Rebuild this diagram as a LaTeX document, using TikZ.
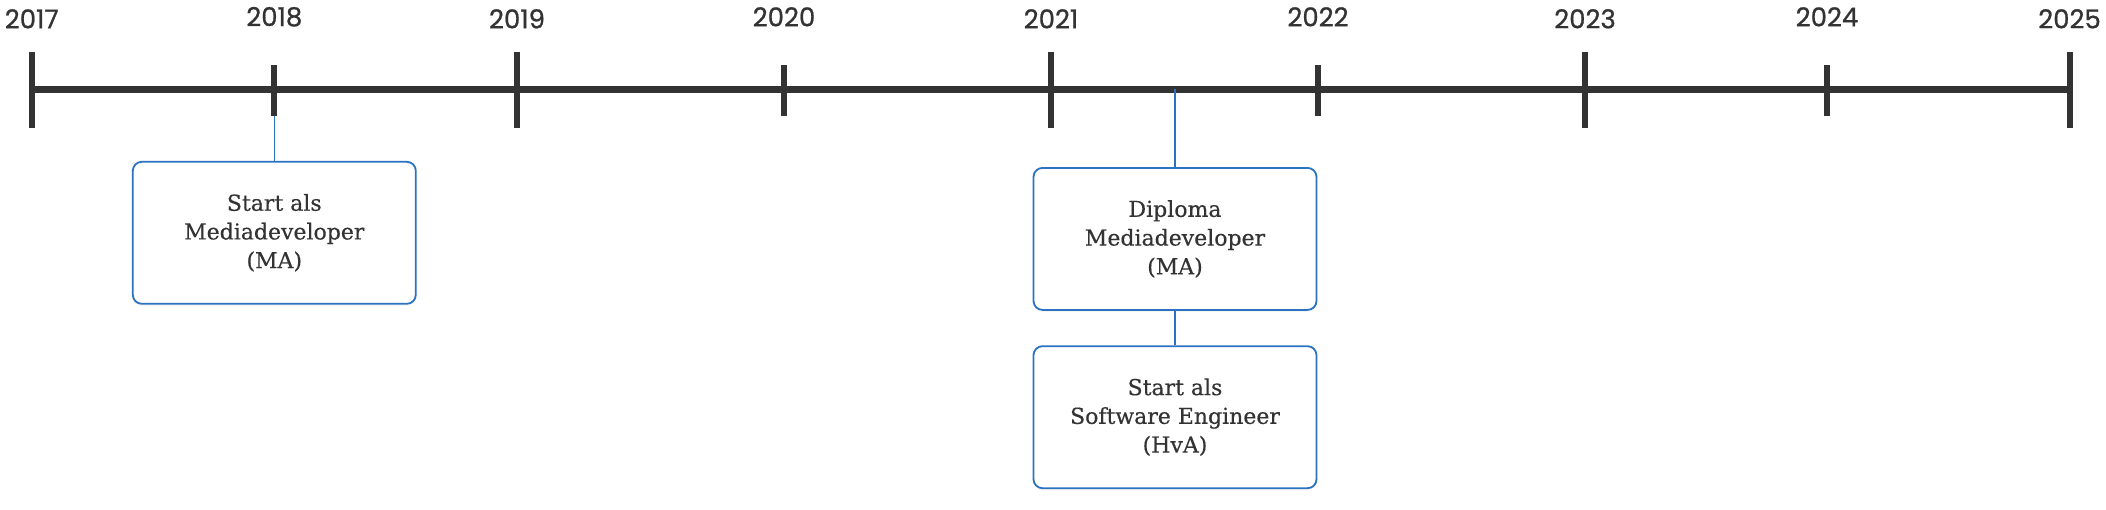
\documentclass[tikz,border=0pt]{standalone}
\usepackage{fontspec}
\usetikzlibrary{shadows}
\newfontfamily\yearfont{Poppins}[FakeBold=0.8]
\newfontfamily\boxfont{DejaVu Serif}[FakeBold=0.4]
\definecolor{axis}{HTML}{333333}
\definecolor{txt}{HTML}{333333}
\definecolor{boxblue}{HTML}{2B73C2}
\begin{document}
\begin{tikzpicture}[x=1pt,y=-1pt,
  axisline/.style={line width=6.6pt, draw=axis},
  tickline/.style={line width=6pt, draw=axis},
  yearlbl/.style={font=\yearfont\fontsize{26}{30}\selectfont, text=axis, inner sep=0pt},
  event/.style={draw=boxblue, line width=1.8pt, rounded corners=9pt, fill=white,
    minimum width=283pt, minimum height=142pt, align=center,
    font=\boxfont\fontsize{22}{28.7}\selectfont, text=txt, inner sep=0pt,
    drop shadow={shadow xshift=0pt, shadow yshift=-2pt, opacity=0.08}},
  link/.style={draw=boxblue, line width=1.3pt}]
\useasboundingbox[fill=white] (0,0) rectangle (2106,509);

% main axis
\coordinate (a0) at (31.7,89.3);
\coordinate (a1) at (2069.5,89.3);
\draw[axisline] (a0) -- (a1);

% ticks (long)
\foreach \n/\x in {2017/31.7, 2019/517, 2021/1051, 2023/1585, 2025/2069.5}{
  \coordinate (t\n top) at (\x,51.7);
  \coordinate (t\n) at (\x,127.7);
  \draw[tickline] (t\n top) -- (t\n);
  \node[yearlbl] (y\n) at (\x,18.8) {\n};
}
% ticks (short)
\foreach \n/\x in {2018/274.3, 2020/784, 2022/1318, 2024/1827}{
  \coordinate (t\n top) at (\x,65);
  \coordinate (t\n) at (\x,115.7);
  \draw[tickline] (t\n top) -- (t\n);
  \node[yearlbl] (y\n) at (\x,16.8) {\n};
}

% events
\node[event] (b1) at (274.3,232.8) {Start als\\Mediadeveloper\\(MA)};
\node[event] (b2) at (1175,238.9) {Diploma\\Mediadeveloper\\(MA)};
\node[event] (b3) at (1175,417.2) {Start als\\Software Engineer\\(HvA)};

\coordinate (m21) at (1175,89.3);

\draw[link] (t2018) -- (b1.north);
\draw[link] (m21) -- (b2.north);
\draw[link] (b2.south) -- (b3.north);
\end{tikzpicture}
\end{document}
